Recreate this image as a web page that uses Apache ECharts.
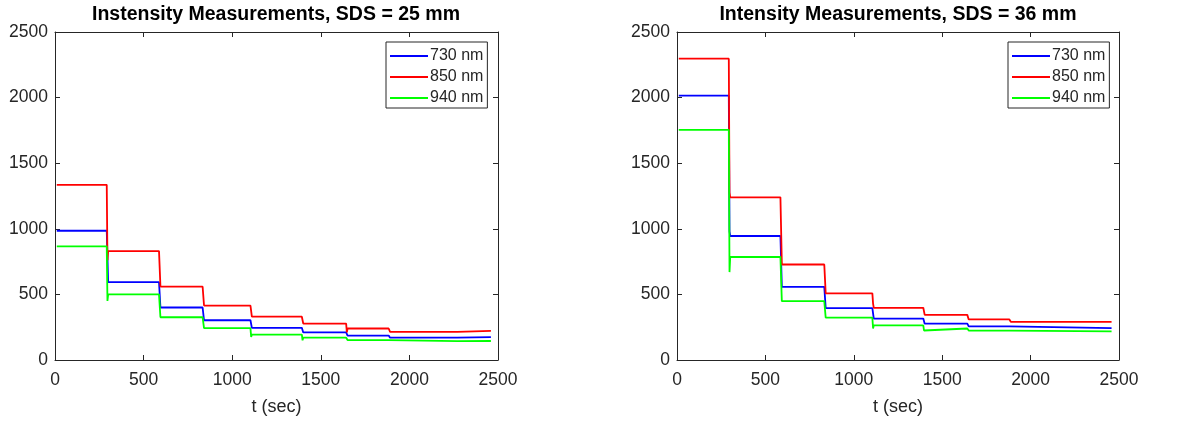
<!DOCTYPE html>
<html>
<head>
<meta charset="utf-8">
<script src="https://cdn.jsdelivr.net/npm/echarts@6/dist/echarts.min.js"></script>
<style>
html, body { margin: 0; padding: 0; background: #fff; }
#main { width: 1185px; height: 421px; }
</style>
</head>
<body>
<div id="main"></div>
<script type="text/javascript">
	// ---- data ----
	var seriesNames = [ '730 nm', '850 nm', '940 nm' ];
	var seriesColors = [ '#0000ff', '#ff0000', '#00ff00' ];
	var yTicks = [ 0, 500, 1000, 1500, 2000, 2500 ];
	var xTicks = [ 0, 500, 1000, 1500, 2000, 2500 ];

	// SDS = 25 mm : step boundaries (sec) and level of each step
	var t25 = [ 10, 292, 587, 833, 1103, 1393, 1643, 1883, 2270, 2460 ];
	var blue25 = [ 985, 593, 400, 303, 245, 210, 186, 170, 175 ];
	var red25 = [ 1335, 830, 560, 415, 330, 278, 240, 215, 222 ];
	var green25 = [ 866, 500, 326, 243, 194, 170, 152, 144, 145 ];
	// transient value right at each step (null = none)
	var blueSpk25 = [ null, null, null, null, null, null, null, null ];
	var redSpk25 = [ 760, null, null, null, null, 210, null, null ];
	var greenSpk25 = [ 450, null, null, 175, 150, null, null, null ];

	// SDS = 36 mm
	var t36 = [ 10, 293, 585, 833, 1105, 1393, 1642, 1880, 2458 ];
	var blue36 = [ 2015, 945, 558, 395, 316, 277, 256, 243 ];
	var red36 = [ 2297, 1240, 728, 508, 398, 344, 309, 291 ];
	var green36 = [ 1754, 785, 448, 323, 264, 240, 224, 218 ];
	var blueSpk36 = [ 980, null, null, null, null, null, null ];
	var redSpk36 = [ 1275, null, null, 430, null, null, null ];
	var greenSpk36 = [ 670, null, null, 240, 225, null, null ];

	function steps(times, levels, spikes) {
		var pts = [ [ times[0], levels[0] ] ];
		for (var i = 1; i < levels.length; i++) {
			pts.push([ times[i], levels[i - 1] ]);
			if (spikes[i - 1] != null) {
				pts.push([ times[i] + 4, spikes[i - 1] ]);
			}
			pts.push([ times[i] + 8, levels[i] ]);
		}
		pts.push([ times[times.length - 1], levels[levels.length - 1] ]);
		return pts;
	}
</script>
<script type="text/javascript">
	var myChart = echarts.init(document.getElementById('main'));
	var font = 'Liberation Sans, Arial, sans-serif';
	var axisColor = '#262626';

	function plain(v) {
		return String(v);
	}

	function xAxes(gridIndex) {
		var base = {
			type : 'value',
			gridIndex : gridIndex,
			min : xTicks[0],
			max : xTicks[xTicks.length - 1],
			interval : 500,
			splitLine : { show : false },
			axisLine : { show : true, onZero : false, lineStyle : { color : axisColor, width : 1 } },
			axisTick : { show : true, inside : true, length : 5, lineStyle : { color : axisColor } }
		};
		var bottom = echarts.util.merge({
			position : 'bottom',
			name : 't (sec)',
			nameLocation : 'middle',
			nameGap : 38,
			nameTextStyle : { fontFamily : font, fontSize : 18, color : axisColor },
			axisLabel : { fontFamily : font, fontSize : 17.5, color : axisColor, margin : 11, formatter : plain }
		}, base, true);
		var top = echarts.util.merge({
			position : 'top',
			axisLabel : { show : false }
		}, base, true);
		return [ bottom, top ];
	}

	function yAxes(gridIndex) {
		var base = {
			type : 'value',
			gridIndex : gridIndex,
			min : yTicks[0],
			max : yTicks[yTicks.length - 1],
			interval : 500,
			splitLine : { show : false },
			axisLine : { show : true, onZero : false, lineStyle : { color : axisColor, width : 1 } },
			axisTick : { show : true, inside : true, length : 5, lineStyle : { color : axisColor } }
		};
		var left = echarts.util.merge({
			position : 'left',
			axisLabel : { fontFamily : font, fontSize : 17.5, color : axisColor, margin : 7, formatter : plain }
		}, base, true);
		var right = echarts.util.merge({
			position : 'right',
			axisLabel : { show : false }
		}, base, true);
		return [ left, right ];
	}

	function line(name, color, data, axisIndex) {
		return {
			name : name,
			type : 'line',
			xAxisIndex : axisIndex,
			yAxisIndex : axisIndex,
			symbol : 'none',
			animation : false,
			lineStyle : { color : color, width : 1.8 },
			itemStyle : { color : color },
			data : data
		};
	}

	function legendAt(left) {
		return {
			data : seriesNames,
			orient : 'vertical',
			left : left,
			top : 42,
			icon : 'rect',
			itemWidth : 38,
			itemHeight : 2,
			itemGap : 3,
			padding : [ 5, 4, 1, 4 ],
			borderColor : axisColor,
			borderWidth : 1,
			selectedMode : false,
			textStyle : { fontFamily : font, fontSize : 16, lineHeight : 18, color : axisColor, padding : [ 0, 0, 0, -3 ] }
		};
	}

	var option = {
		backgroundColor : '#ffffff',
		color : seriesColors,
		title : [ {
			text : 'Instensity Measurements, SDS = 25 mm',
			left : 276,
			top : 5,
			textAlign : 'center',
			padding : 0,
			textStyle : { fontFamily : font, fontSize : 19.5, fontWeight : 'bold', color : '#000' }
		}, {
			text : 'Intensity Measurements, SDS = 36 mm',
			left : 898,
			top : 5,
			textAlign : 'center',
			padding : 0,
			textStyle : { fontFamily : font, fontSize : 19.5, fontWeight : 'bold', color : '#000' }
		} ],
		legend : [ legendAt(386), legendAt(1008) ],
		grid : [ { left : 55, top : 32, width : 443, height : 331 },
				{ left : 677, top : 32, width : 442, height : 331 } ],
		xAxis : xAxes(0).concat(xAxes(1)),
		yAxis : yAxes(0).concat(yAxes(1)),
		series : [
			line(seriesNames[0], seriesColors[0], steps(t25, blue25, blueSpk25), 0),
			line(seriesNames[1], seriesColors[1], steps(t25, red25, redSpk25), 0),
			line(seriesNames[2], seriesColors[2], steps(t25, green25, greenSpk25), 0),
			line(seriesNames[0], seriesColors[0], steps(t36, blue36, blueSpk36), 2),
			line(seriesNames[1], seriesColors[1], steps(t36, red36, redSpk36), 2),
			line(seriesNames[2], seriesColors[2], steps(t36, green36, greenSpk36), 2) ]
	};
	myChart.setOption(option);
</script>
</body>
</html>
